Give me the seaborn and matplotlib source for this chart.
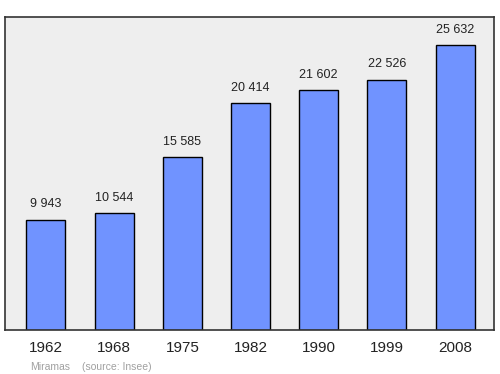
import matplotlib
matplotlib.use("Agg")
import matplotlib.pyplot as plt
import seaborn as sns
import pandas as pd

years = ["1962", "1968", "1975", "1982", "1990", "1999", "2008"]
population = [9943, 10544, 15585, 20414, 21602, 22526, 25632]
labels = ["9 943", "10 544", "15 585", "20 414", "21 602", "22 526", "25 632"]

sns.set_theme(style="white")
plt.rcParams['font.family'] = ['Liberation Sans', 'DejaVu Sans']

df = pd.DataFrame({"year": years, "pop": population})

fig = plt.figure(figsize=(5, 3.74), dpi=100)
ax = fig.add_axes([0.01, 0.1176, 0.978, 0.837])
ax.set_facecolor("#eeeeee")
sns.barplot(data=df, x="year", y="pop", ax=ax, color="#7093ff", saturation=1,
            width=0.57, edgecolor="black", linewidth=1)
for i, (v, t) in enumerate(zip(population, labels)):
    ax.text(i, v + 850, t, ha="center", va="bottom", fontsize=9, color="#222222")
ax.set_ylim(0, 28195)
ax.set_xlim(-0.6, 6.57)
ax.set_yticks([])
ax.set_xlabel("")
ax.set_ylabel("")
ax.tick_params(axis="x", labelsize=11, length=0, pad=8, colors="#222222")
for s in ax.spines.values():
    s.set_visible(True)
    s.set_color("#333333")
    s.set_linewidth(1.2)
fig.text(0.06, 0.012, "Miramas", fontsize=7.5, color="#a0a0a0")
fig.text(0.165, 0.012, "(source: Insee)", fontsize=7.5, color="#a0a0a0")
fig.savefig("out.png", dpi=100)
